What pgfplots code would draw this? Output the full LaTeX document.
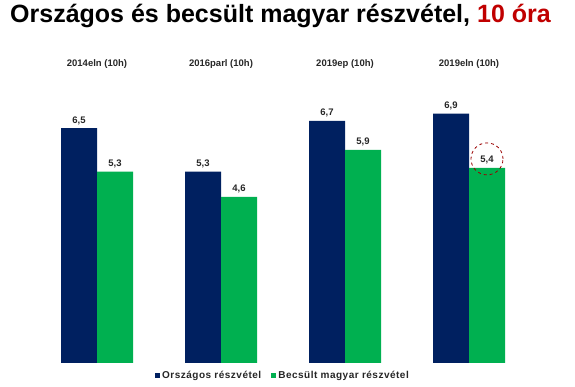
\documentclass[border=0pt]{standalone}
\usepackage{pgfplots}
\pgfplotsset{compat=1.18}
\usepackage{fontspec}
\setmainfont{Liberation Sans}
\definecolor{navy}{RGB}{0,32,96}
\definecolor{grn}{RGB}{0,176,80}
\definecolor{tred}{RGB}{192,0,0}
\begin{document}
\begin{tikzpicture}[x=1pt,y=1pt]
\useasboundingbox (0,0) rectangle (575,387);
\node[anchor=base,font=\bfseries\fontsize{25}{28}\selectfont,inner sep=0pt] at (280.5,364) {Országos és becsült magyar részvétel, \textcolor{tred}{10 óra}};
\begin{axis}[
  at={(35pt,24pt)}, anchor=south west,
  scale only axis, width=496pt, height=289pt,
  ybar, bar width=36pt,
  ymin=0, ymax=8, xmin=-0.5, xmax=3.5,
  axis line style={draw=none},
  ytick=\empty,
  xtick={0,1,2,3}, xticklabels={2014eln (10h),2016parl (10h),2019ep (10h),2019eln (10h)},
  xticklabel pos=upper, xtick style={draw=none},
  xticklabel style={font=\bfseries\fontsize{9.5}{11}\selectfont, yshift=-2pt, text=black!85},
  nodes near coords,
  nodes near coords style={font=\bfseries\fontsize{9.5}{11}\selectfont, text=black!85, /pgf/number format/.cd, use comma, fixed, fixed zerofill, precision=1, assume math mode=true},
  legend style={at={(0.5,-0.015)}, anchor=north, draw=none, font=\bfseries\fontsize{10}{12}\selectfont\addfontfeatures{LetterSpace=5}, text=black!85, legend columns=2, /tikz/every even column/.append style={column sep=8pt}},
  legend image code/.code={\fill[#1] (1pt,-2.5pt) rectangle (6pt,2.5pt);},
]
\addplot[fill=navy, draw=none, bar shift=-18pt] coordinates {(0,6.5) (1,5.3) (2,6.7) (3,6.9)};
\addplot[fill=grn, draw=none, bar shift=18pt] coordinates {(0,5.3) (1,4.6) (2,5.9) (3,5.4)};
\legend{Országos részvétel, Becsült magyar részvétel}
\draw[tred!80!black, dashed, line width=0.8pt] ([xshift=18pt]axis cs:3,5.65) circle (16pt);
\end{axis}
\end{tikzpicture}
\end{document}
